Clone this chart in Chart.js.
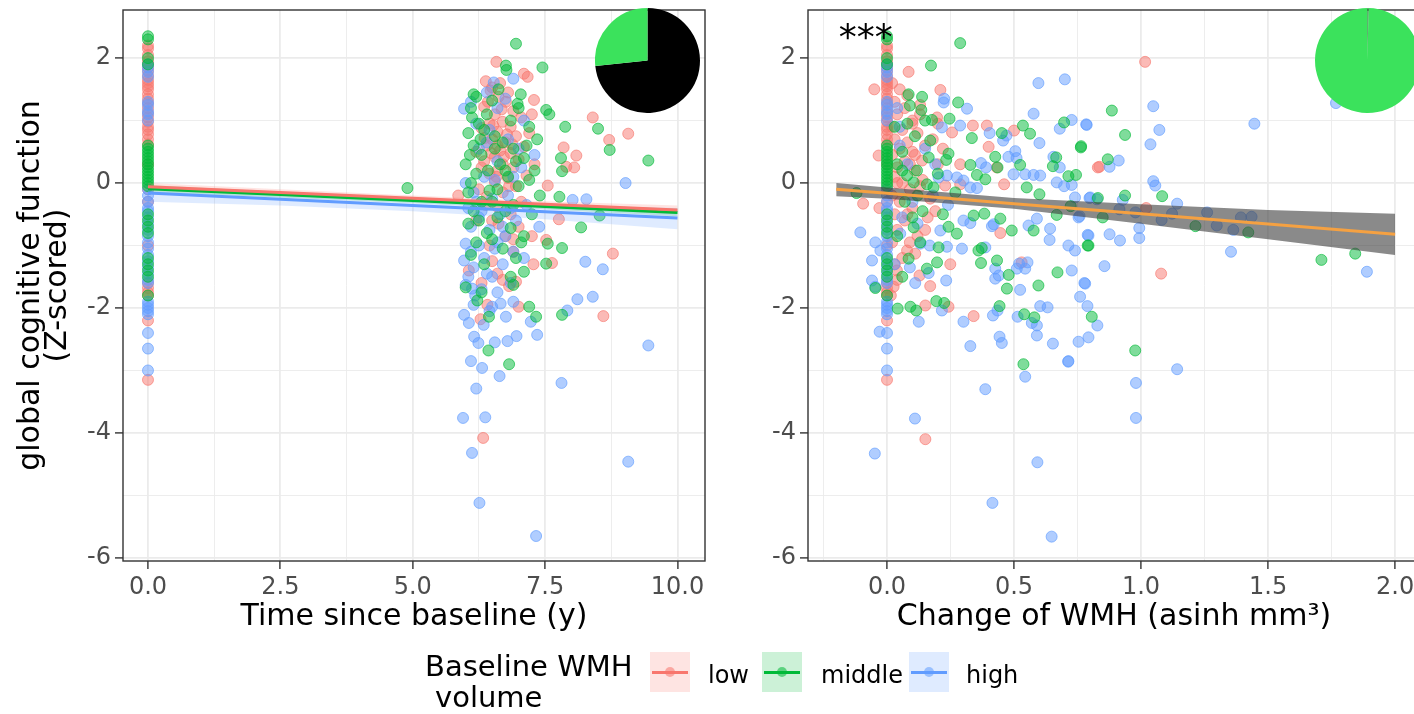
<!DOCTYPE html>
<html>
<head>
<meta charset="utf-8">
<title>WMH and global cognition</title>
<script src="https://cdn.jsdelivr.net/npm/chart.js@4.4.1/dist/chart.umd.min.js"></script>
<style>
  html, body { margin: 0; padding: 0; background: #fff; }
  body { position: relative; width: 1414px; height: 714px; overflow: hidden; font-family: 'DejaVu Sans', sans-serif; }
  canvas { position: absolute; }
  #timeChart { left: 0; top: 0; }
  #wmhChart { left: 720px; top: 0; }
  #pieTime { left: 595px; top: 8px; }
  #pieWmh { left: 1315px; top: 8px; }
  .legend-title { position: absolute; left: 425px; top: 651px; font-size: 29px; line-height: 31px; white-space: nowrap; }
  .legend-key { position: absolute; top: 652px; width: 40px; height: 40px; }
  .legend-key .bar { position: absolute; left: 2px; right: 2px; top: 18.5px; height: 3px; }
  .legend-key .dot { position: absolute; left: 15px; top: 15px; width: 10px; height: 10px; border-radius: 50%; }
  .legend-label { position: absolute; top: 663px; font-size: 24px; line-height: 24px; white-space: nowrap; }
</style>
</head>
<body>
<canvas id="timeChart" width="720" height="714"></canvas>
<canvas id="wmhChart" width="714" height="714"></canvas>
<canvas id="pieTime" width="105" height="105"></canvas>
<canvas id="pieWmh" width="105" height="105"></canvas>
<div class="legend-title">Baseline WMH<br><span style="padding-left:10px">volume</span></div>
<div id="legend"></div>

<script>
// Groups (baseline WMH volume tertiles)
const groups = ['low', 'middle', 'high'];
const groupColors = ['248,118,109', '0,186,56', '97,156,255'];

// Baseline cognition (x = 0 in both panels)
const baseLow = [2.2, 2.15, 2.05, 1.95, 1.9, 1.85, 1.8, 1.72, 1.65, 1.6, 1.55, 1.5, 1.42, 1.35, 1.28, 1.2, 1.12,
  1.05, 0.98, 0.9, 0.85, 0.78, 0.7, 0.62, 0.3, -0.1, -0.3, -1.0, -1.6, -1.68, -1.75, -1.8, -2.2, -3.15];
const baseMid = [2.35, 2.3, 2.0, 1.9, 0.6, 0.55, 0.5, 0.45, 0.4, 0.35, 0.3, 0.25, 0.2, 0.15, 0.1, 0.05, 0.0, -0.05,
  -0.5, -0.6, -0.7, -0.8, -1.2, -1.3, -1.4, -1.5, -1.8];
const baseHigh = [1.9, 1.85, 1.78, 1.7, 1.3, 1.25, 1.15, 1.1, 1.0, -0.1, -0.2, -0.3, -0.4, -0.45, -0.55, -0.65,
  -0.75, -0.85, -0.95, -1.05, -1.15, -1.25, -1.35, -1.45, -1.55, -1.6, -1.9, -1.95, -2.0, -2.05, -2.1, -2.4,
  -2.65, -3.0];

// Follow-up: [years since baseline, score]
const timeLow = [[6.58,1.94],[7.1,1.75],[7.17,1.7],[6.38,1.63],[6.5,1.53],[6.47,1.48],[7.29,1.33],[6.76,1.3],[6.62,1.38],
  [6.35,1.22],[6.9,1.15],[6.55,1.1],[7.05,1.05],[6.7,0.98],[6.45,0.95],[6.85,0.9],[6.3,0.88],[6.6,0.82],[7.2,0.8],
  [6.95,0.75],[6.5,0.7],[6.75,0.65],[6.4,0.6],[7.1,0.58],[6.65,0.52],[6.85,0.48],[6.55,0.42],[7.0,0.38],[6.35,0.35],
  [6.7,0.3],[6.9,0.25],[6.6,0.2],[6.45,0.15],[7.15,0.12],[6.8,0.08],[6.55,0.02],[6.95,-0.05],[6.25,-0.1],[6.7,-0.15],
  [6.4,-0.22],[5.86,-0.2],[7.05,-0.3],[6.6,-0.38],[6.85,-0.5],[6.5,-0.6],[7.0,-0.7],[6.75,-0.85],[6.45,-1.0],[6.9,-1.1],
  [8.4,1.05],[9.07,0.79],[8.71,0.69],[7.85,0.57],[8.09,0.44],[7.9,0.26],[8.05,0.25],[7.55,-0.04],[7.76,-0.58],
  [8.78,-1.13],[7.28,-1.3],[7.63,-1.28],[7.52,-0.91],[7.0,-1.98],[6.82,-1.65],[6.95,-1.58],[6.06,-1.4],[6.41,-1.95],
  [6.28,-2.18],[8.6,-2.13],[6.33,-4.08],[6.6,-1.45],[6.3,-1.6],[6.65,1.6],[6.8,1.45],[7.25,1.1],[6.2,0.5],
  [6.42,1.3],[6.68,1.18],[6.52,0.92],[6.78,0.78],[6.36,0.72],[6.6,0.6],[6.88,0.62],[6.48,0.48],[6.72,0.42],[6.3,0.25],
  [6.58,0.1],[6.82,-0.05],[6.38,-0.35],[6.62,-0.65],[6.9,-0.9],[6.5,-1.25],[6.7,-1.55],[7.3,0.3],[7.25,-0.85],[6.2,-0.6]];
const timeMid = [[6.95,2.23],[6.76,1.88],[6.77,1.81],[7.45,1.85],[7.04,1.42],[6.15,1.42],[6.2,1.38],[6.98,1.27],
  [7.52,1.17],[7.58,1.1],[8.5,0.87],[7.88,0.9],[8.72,0.53],[7.8,0.4],[7.82,0.19],[9.45,0.36],[7.77,-0.22],[4.9,-0.08],
  [6.1,1.2],[6.4,1.1],[6.85,1.0],[6.25,0.95],[7.2,0.9],[6.05,0.8],[6.55,0.75],[7.35,0.7],[6.15,0.6],[6.9,0.55],
  [6.3,0.45],[7.1,0.4],[6.0,0.3],[6.65,0.3],[7.3,0.2],[6.2,0.15],[6.8,0.1],[6.1,0.0],[7.0,-0.05],[6.45,-0.12],
  [6.3,-0.3],[6.9,-0.35],[6.15,-0.45],[7.25,-0.5],[6.6,-0.55],[6.05,-0.65],[6.85,-0.72],[6.4,-0.8],[7.1,-0.85],
  [6.2,-0.95],[6.7,-1.05],[6.95,-1.2],[6.35,-1.3],[6.0,-1.67],[8.53,-0.52],[8.18,-0.71],[7.82,-1.04],[7.52,-1.29],
  [7.1,-1.42],[7.55,-0.97],[6.9,-1.63],[7.82,-2.11],[7.2,-1.98],[7.33,-2.14],[6.22,-1.88],[6.44,-2.14],[6.82,-2.9],
  [6.43,-2.68],[7.4,-0.2],[7.15,0.6],[6.55,0.55],[6.75,0.2],[6.5,-0.3],[7.0,1.2],[6.35,0.85],
  [6.12,1.05],[6.5,1.32],[6.28,0.7],[6.7,0.65],[6.95,0.35],[6.42,0.2],[6.05,-0.15],[6.6,-0.1],[6.25,-0.6],[6.75,-0.45],
  [6.5,-0.9],[6.1,-1.15],[6.85,-1.5],[6.3,-1.75],[7.2,0.05],[7.05,-0.95],[6.62,1.5],[6.08,0.45]];
const timeHigh = [[6.53,1.61],[6.9,1.67],[6.1,1.3],[5.97,1.19],[6.6,1.2],[7.1,1.0],[6.45,0.85],[6.8,0.7],[6.25,0.55],
  [7.3,0.45],[6.6,0.35],[7.05,0.25],[6.35,0.1],[9.02,0.0],[8.02,-0.27],[8.28,-0.26],[6.0,0.0],[6.15,-0.15],[6.5,-0.25],
  [6.8,-0.2],[7.15,-0.35],[6.3,-0.45],[6.65,-0.5],[6.95,-0.6],[6.1,-0.7],[6.45,-0.75],[7.39,-0.7],[6.75,-0.85],
  [6.0,-0.97],[6.25,-1.0],[6.55,-1.05],[6.9,-1.1],[5.97,-1.24],[6.35,-1.2],[6.15,-1.35],[6.7,-1.3],[6.0,-1.63],
  [6.12,-1.69],[6.3,-1.7],[6.5,-1.5],[8.26,-1.26],[8.59,-1.38],[8.11,-1.86],[8.4,-1.82],[7.92,-2.04],[9.45,-2.6],
  [7.81,-3.2],[6.1,-2.85],[6.31,-2.96],[6.64,-3.09],[6.2,-3.29],[7.35,-2.43],[6.96,-2.45],[6.79,-2.53],[6.55,-2.55],
  [6.16,-2.46],[6.24,-2.56],[5.97,-2.11],[6.06,-2.24],[7.23,-2.22],[6.76,-2.14],[6.66,-1.93],[6.5,-1.98],[6.15,-1.95],
  [6.34,-2.27],[5.95,-3.76],[6.37,-3.75],[6.12,-4.32],[9.07,-4.46],[6.26,-5.12],[7.33,-5.65],[6.85,-0.4],[7.0,0.55],
  [6.4,0.65],[6.6,-0.95],[6.2,-0.3],
  [6.4,1.45],[6.75,1.35],[6.2,0.95],[6.55,0.05],[6.9,0.1],[6.25,-0.55],[6.05,-0.4],[6.7,-0.7],[6.4,-1.45],[6.85,-1.6],
  [6.18,-1.8],[6.6,-1.75],[7.1,-1.2],[6.1,-1.1],[6.45,-2.05],[6.9,-1.9],[6.05,-1.5]];

// Follow-up: [change of WMH (asinh mm3), score]
const wmhLow = [[0.085,1.78],[0.21,1.49],[0.197,1.05],[0.338,0.92],[0.393,0.92],[0.5,0.84],[0.256,0.81],[0.4,0.58],
  [0.83,0.25],[0.432,0.25],[0.288,0.3],[0.138,0.36],[0.2,0.3],[0.461,-0.02],[0.288,-0.02],[0.229,-0.04],[-0.033,0.44],
  [-0.094,-0.33],[0.53,-1.27],[0.446,-0.8],[0.341,-2.13],[0.249,-1.3],[0.17,-1.65],[0.128,-1.48],[0.079,-1.08],
  [0.111,-1.13],[0.039,-1.4],[0.026,-1.66],[0.151,-1.96],[0.242,-1.98],[0.836,0.26],[1.02,-0.4],[1.079,-1.45],
  [0.151,-4.1],[1.016,1.94],[0.02,1.6],[0.05,1.5],[0.03,1.3],[0.07,1.2],[0.04,1.1],[0.1,1.0],[0.02,0.9],[0.06,0.85],
  [0.12,0.8],[0.03,0.7],[0.08,0.65],[0.05,0.55],[0.1,0.5],[0.02,0.45],[0.07,0.35],[0.04,0.25],[0.11,0.2],[0.03,0.1],
  [0.06,0.0],[0.09,-0.1],[0.02,-0.2],[0.05,-0.3],[0.1,-0.4],[0.03,-0.5],[0.07,-0.6],[0.04,-0.75],[0.12,-0.85],
  [0.02,-0.95],[0.06,-1.2],[0.04,-1.55],[0.015,-1.8],[0.1,0.95],[0.15,0.6],[0.14,0.05],[0.16,-0.55],[0.13,1.25],
  [-0.05,1.5],[-0.03,-0.4],[0.2,0.95],[0.17,-0.25],
  [0.08,1.4],[0.13,1.1],[0.18,0.7],[0.09,0.3],[0.13,-0.05],[0.08,-0.5],[0.15,-0.75],[0.09,-0.95],[0.03,-1.3],
  [0.19,-0.45],[0.22,0.55],[0.04,0.0],[0.11,0.45]];
const wmhMid = [[0.288,2.24],[0.173,1.88],[0.085,1.42],[0.138,1.38],[0.28,1.29],[0.09,1.24],[0.135,1.17],[0.246,1.03],
  [0.177,1.01],[0.535,0.92],[0.563,0.79],[0.697,0.97],[0.452,0.8],[0.334,0.72],[0.763,0.57],[0.666,0.41],[0.653,0.27],
  [0.714,0.11],[0.744,0.13],[0.426,0.42],[0.435,0.25],[0.524,0.29],[0.328,0.29],[0.233,0.37],[0.242,0.47],[0.164,0.41],
  [0.17,0.68],[0.354,0.13],[0.387,0.06],[0.55,-0.07],[0.6,-0.18],[0.723,-0.37],[0.269,-0.15],[0.157,-0.02],[0.183,-0.07],
  [0.105,0.01],[0.118,0.2],[0.079,0.12],[-0.046,-1.68],[0.042,-2.01],[0.092,-1.98],[0.115,-2.04],[0.194,-1.89],
  [0.225,-1.92],[0.537,-2.9],[0.443,-1.97],[0.54,-2.1],[0.58,-2.15],[0.806,-2.14],[0.671,-1.43],[0.596,-1.64],
  [0.472,-1.69],[0.433,-1.24],[0.37,-1.28],[0.36,-1.08],[0.373,-1.04],[0.479,-1.47],[0.203,-1.03],[0.197,-1.27],
  [0.157,-1.37],[0.131,-0.95],[0.085,-1.21],[0.105,-0.71],[0.242,-0.7],[0.275,-0.81],[0.341,-0.52],[0.383,-0.49],
  [0.446,-0.57],[0.491,-0.76],[0.577,-0.76],[0.668,-0.51],[0.793,-1.0],[0.885,1.16],[0.937,0.77],[0.764,0.59],
  [0.869,0.38],[1.083,-0.21],[0.937,-0.2],[0.83,-0.24],[0.849,-0.55],[1.214,-0.69],[1.422,-0.79],[0.79,-1.0],
  [1.71,-1.23],[1.843,-1.13],[0.977,-2.68],[-0.12,-0.16],[0.06,0.5],[0.04,0.3],[0.11,0.75],[0.07,-0.3],[0.14,-0.45],
  [0.03,0.9],[0.08,0.95],[0.06,0.2],[0.12,-0.2],[0.1,-0.55],[0.04,-0.85],[0.06,-1.5],[0.2,0.15],[0.15,1.0],[0.22,-0.5]];
const wmhHigh = [[0.596,1.6],[0.7,1.66],[0.225,1.35],[0.223,1.29],[0.315,1.19],[0.577,1.11],[0.288,0.92],[0.216,0.89],
  [0.68,0.87],[0.727,1.01],[0.786,0.93],[0.404,0.8],[0.47,0.76],[0.457,0.68],[0.6,0.64],[0.655,0.42],[0.68,0.25],
  [0.37,0.32],[0.39,0.25],[0.478,0.42],[0.505,0.51],[0.51,0.4],[0.498,0.14],[0.544,0.14],[0.577,0.13],[0.603,0.12],
  [0.668,0.01],[0.697,-0.05],[0.727,-0.03],[0.275,0.09],[0.301,0.04],[0.328,-0.07],[0.354,-0.08],[0.236,0.12],
  [0.203,0.09],[0.74,-0.23],[0.8,-0.23],[0.826,-0.26],[-0.105,-0.79],[-0.046,-0.95],[-0.059,-1.24],[-0.026,-1.08],
  [-0.059,-1.56],[-0.046,-1.66],[-0.029,-2.38],[0.125,-2.22],[0.216,-2.04],[0.301,-2.22],[0.328,-2.61],[0.387,-3.3],
  [0.544,-3.1],[0.417,-2.12],[0.435,-2.04],[0.443,-2.46],[0.452,-2.56],[0.514,-2.14],[0.57,-2.24],[0.59,-2.28],
  [0.59,-2.44],[0.603,-1.97],[0.632,-1.99],[0.653,-2.57],[0.714,-2.85],[0.754,-2.54],[0.793,-2.47],[0.828,-2.28],
  [0.789,-1.97],[0.426,-1.37],[0.426,-1.53],[0.44,-1.48],[0.511,-1.37],[0.544,-1.37],[0.52,-1.29],[0.553,-1.27],
  [0.524,-1.71],[0.727,-1.4],[0.76,-1.82],[0.78,-1.61],[0.111,-1.6],[0.164,-1.44],[0.233,-1.56],[0.301,-0.6],
  [0.328,-0.64],[0.413,-0.69],[0.42,-0.66],[0.557,-0.68],[0.642,-0.73],[0.64,-0.91],[0.714,-1.0],[0.74,-1.08],
  [0.793,-0.84],[0.754,-0.55],[0.59,-0.57],[0.21,-0.76],[0.168,-1.0],[0.131,-0.97],[0.052,-0.81],[0.387,-1.03],
  [0.295,-1.05],[0.236,-1.02],[0.784,0.94],[1.048,1.23],[1.072,0.85],[1.037,0.62],[0.876,0.26],[0.912,0.36],
  [1.446,0.95],[1.048,0.03],[1.056,-0.04],[0.928,-0.27],[0.797,-0.24],[0.758,-0.53],[1.142,-0.33],[0.915,-0.42],
  [0.978,-0.47],[1.122,-0.49],[1.081,-0.59],[1.26,-0.47],[1.298,-0.68],[1.363,-0.75],[1.393,-0.55],[1.435,-0.54],
  [0.993,-0.72],[0.993,-0.88],[0.79,-0.83],[0.876,-0.82],[0.917,-0.92],[0.856,-1.33],[0.777,-1.6],[1.354,-1.1],
  [1.889,-1.42],[1.767,1.28],[0.713,-2.86],[1.142,-2.98],[0.98,-3.2],[0.98,-3.76],[0.11,-3.77],[-0.048,-4.33],
  [0.592,-4.47],[0.415,-5.12],[0.648,-5.66],[0.05,0.6],[0.08,0.3],[0.1,-0.3],[0.06,-0.55],
  [0.04,1.2],[0.15,0.55],[0.18,-0.2],[0.12,-0.65],[0.03,-1.3],[0.09,-1.35],[0.05,0.9],[0.24,-0.35],[0.19,0.3]];

// Linear fits with 95% CI, time panel (one per group)
const timeFitX = [0, 2.5, 5, 7.5, 10];
const fitLow = [-0.06, -0.15, -0.245, -0.34, -0.43];
const upperLow = [0.0, -0.1, -0.2, -0.29, -0.36];
const lowerLow = [-0.12, -0.2, -0.29, -0.39, -0.5];
const fitMid = [-0.09, -0.185, -0.28, -0.375, -0.47];
const upperMid = [-0.03, -0.14, -0.24, -0.33, -0.41];
const lowerMid = [-0.15, -0.23, -0.32, -0.42, -0.53];
const fitHigh = [-0.16, -0.26, -0.36, -0.46, -0.56];
const upperHigh = [-0.06, -0.17, -0.28, -0.35, -0.4];
const lowerHigh = [-0.3, -0.36, -0.45, -0.58, -0.74];

// Pooled linear fit, WMH-change panel
const wmhFitX = [-0.2, 0, 0.5, 1.0, 1.5, 2.0];
const wmhFit = [-0.10, -0.165, -0.33, -0.49, -0.655, -0.82];
const wmhUpper = [0.0, -0.07, -0.24, -0.34, -0.43, -0.49];
const wmhLower = [-0.21, -0.25, -0.41, -0.65, -0.9, -1.15];

// Inset pies: [black, green]
const pieTime = [0.733, 0.267];
const pieWmh = [0.003, 0.997];

// Tick labels
const timeTicks = [0, 2.5, 5, 7.5, 10];
const wmhTicks = [0, 0.5, 1, 1.5, 2];
const scoreTicks = [-6, -4, -2, 0, 2];

const FONT = "'DejaVu Sans', sans-serif";
const rgba = (c, a) => `rgba(${c},${a})`;
const xy = (xs, ys) => xs.map((x, i) => ({ x, y: ys[i] }));

function points(pairs, c, order) {
  return {
    type: 'scatter', data: pairs.map(p => ({ x: p[0], y: p[1] })),
    pointRadius: 5.5, pointHoverRadius: 5.5, borderWidth: 1,
    backgroundColor: rgba(c, 0.5), borderColor: rgba(c, 0.65), order
  };
}
function baseline(scores, c, order) {
  return points(scores.map(s => [0, s]), c, order);
}
function band(xs, hi, lo, fillColor) {
  return [
    { type: 'line', data: xy(xs, hi), fill: '+1', backgroundColor: fillColor, borderColor: 'transparent',
      borderWidth: 0, pointRadius: 0, order: 2 },
    { type: 'line', data: xy(xs, lo), fill: false, borderColor: 'transparent', borderWidth: 0, pointRadius: 0, order: 2 }
  ];
}
function fitLine(xs, ys, color) {
  return { type: 'line', data: xy(xs, ys), borderColor: color, borderWidth: 3, pointRadius: 0, fill: false, order: 1 };
}

const isIn = (list, v) => list.some(m => Math.abs(m - v) < 1e-6);

function axis(min, max, step, majors, fmt, size, title) {
  return {
    type: 'linear', min, max,
    border: { display: false },
    afterFit: s => {
      // fixed panel geometry, no automatic label overflow padding
      if (s.isHorizontal()) { s.height = size; s.paddingLeft = 0; s.paddingRight = 0; }
      else { s.width = size; s.paddingTop = 0; s.paddingBottom = 0; }
    },
    grid: {
      color: '#ebebeb',
      lineWidth: ctx => isIn(majors, ctx.tick.value) ? 1.8 : 0.9,
      tickColor: ctx => isIn(majors, ctx.tick.value) ? '#333333' : 'rgba(0,0,0,0)',
      tickLength: 8, tickWidth: 1.4, drawTicks: true
    },
    ticks: {
      stepSize: step, includeBounds: false, autoSkip: false, maxRotation: 0, padding: 4,
      color: '#4d4d4d', font: { size: 24, family: FONT },
      callback: v => isIn(majors, v) ? fmt(v) : ''
    },
    title: title || { display: false }
  };
}

const frame = {
  id: 'frame',
  afterDatasetsDraw(chart) {
    const { ctx, chartArea: a } = chart;
    ctx.save();
    ctx.strokeStyle = '#333333';
    ctx.lineWidth = 1.4;
    ctx.strokeRect(a.left, a.top, a.right - a.left, a.bottom - a.top);
    ctx.restore();
  }
};

const stars = {
  id: 'stars',
  afterDatasetsDraw(chart) {
    const { ctx, scales } = chart;
    ctx.save();
    ctx.fillStyle = '#000';
    ctx.font = `36px ${FONT}`;
    ctx.textAlign = 'left';
    ctx.textBaseline = 'alphabetic';
    ctx.fillText('***', scales.x.getPixelForValue(-0.19), scales.y.getPixelForValue(2.14));
    ctx.restore();
  }
};

const yFmt = v => String(v);
const xFmt = v => v.toFixed(1);
const commonOpts = {
  responsive: false, animation: false, events: [],
  plugins: { legend: { display: false }, tooltip: { enabled: false } }
};

// Left panel: time since baseline
new Chart(document.getElementById('timeChart'), {
  type: 'scatter',
  data: {
    datasets: [
      fitLine(timeFitX, fitHigh, 'rgb(97,156,255)'),
      fitLine(timeFitX, fitLow, 'rgb(248,118,109)'),
      fitLine(timeFitX, fitMid, 'rgb(0,186,56)'),
      ...band(timeFitX, upperHigh, lowerHigh, rgba(groupColors[2], 0.2)),
      ...band(timeFitX, upperLow, lowerLow, rgba(groupColors[0], 0.2)),
      ...band(timeFitX, upperMid, lowerMid, rgba(groupColors[1], 0.2)),
      baseline(baseLow, groupColors[0], 12), points(timeLow, groupColors[0], 12),
      baseline(baseHigh, groupColors[2], 11), points(timeHigh, groupColors[2], 11),
      baseline(baseMid, groupColors[1], 10), points(timeMid, groupColors[1], 10)
    ]
  },
  options: {
    ...commonOpts,
    layout: { padding: { left: 0, right: 15, top: 10, bottom: 52 } },
    scales: {
      x: axis(-0.472, 10.52, 1.25, timeTicks, xFmt, 101, {
        display: true, text: 'Time since baseline (y)', color: '#000',
        font: { size: 30, family: FONT, lineHeight: 1.2 }, padding: { top: 0, bottom: 27 }
      }),
      y: axis(-6.05, 2.77, 1, scoreTicks, yFmt, 123, {
        display: true, text: ['global cognitive function', '(Z-scored)'], color: '#000',
        font: { size: 30, family: FONT, lineHeight: 0.9 }, padding: { top: 18, bottom: 0 }
      })
    }
  },
  plugins: [frame]
});

// Right panel: change of WMH
new Chart(document.getElementById('wmhChart'), {
  type: 'scatter',
  data: {
    datasets: [
      fitLine(wmhFitX, wmhFit, '#f5a142'),
      ...band(wmhFitX, wmhUpper, wmhLower, 'rgba(60,60,60,0.6)'),
      baseline(baseLow, groupColors[0], 12), points(wmhLow, groupColors[0], 12),
      baseline(baseHigh, groupColors[2], 11), points(wmhHigh, groupColors[2], 11),
      baseline(baseMid, groupColors[1], 10), points(wmhMid, groupColors[1], 10)
    ]
  },
  options: {
    ...commonOpts,
    layout: { padding: { left: 0, right: 14, top: 10, bottom: 52 } },
    scales: {
      x: axis(-0.311, 2.098, 0.25, wmhTicks, xFmt, 101, {
        display: true, text: 'Change of WMH (asinh mm³)', color: '#000',
        font: { size: 30, family: FONT, lineHeight: 1.2 }, padding: { top: 0, bottom: 27 }
      }),
      y: axis(-6.05, 2.77, 1, scoreTicks, yFmt, 88)
    }
  },
  plugins: [frame, stars]
});

// Inset pies
function pie(id, values) {
  new Chart(document.getElementById(id), {
    type: 'pie',
    data: { labels: ['other', 'share'], datasets: [{ data: values, backgroundColor: ['#000000', '#3be25c'], borderWidth: 0 }] },
    options: { ...commonOpts, layout: { padding: 0 } }
  });
}
pie('pieTime', pieTime);
pie('pieWmh', pieWmh);

// Legend
const keyLeft = [650, 762, 909];
const labelLeft = [708, 821, 966];
const legend = document.getElementById('legend');
groups.forEach((g, i) => {
  const c = groupColors[i];
  const key = document.createElement('div');
  key.className = 'legend-key';
  key.style.left = keyLeft[i] + 'px';
  key.style.background = rgba(c, 0.2);
  key.innerHTML = `<div class="bar" style="background:rgb(${c})"></div>` +
    `<div class="dot" style="background:${rgba(c, 0.55)}"></div>`;
  legend.appendChild(key);
  const lab = document.createElement('div');
  lab.className = 'legend-label';
  lab.style.left = labelLeft[i] + 'px';
  lab.textContent = g;
  legend.appendChild(lab);
});
</script>
</body>
</html>
